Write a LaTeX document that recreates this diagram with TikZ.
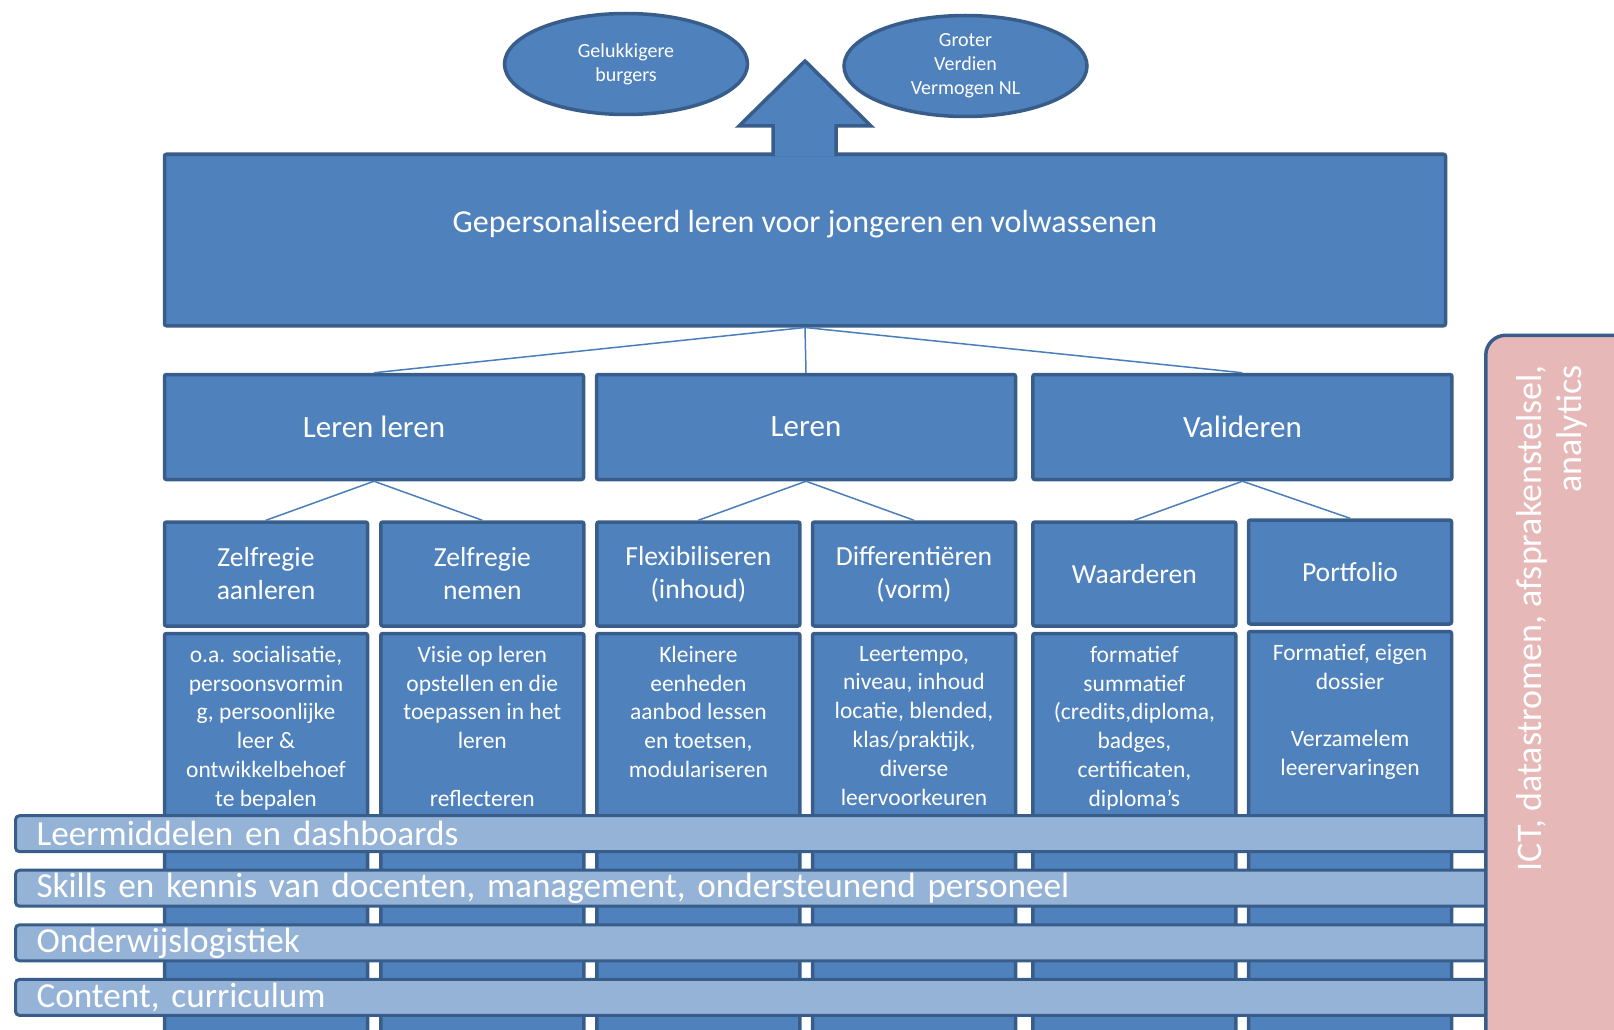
\documentclass[tikz,border=0pt]{standalone}
\usepackage{fontspec}
\setmainfont{Carlito}
\usetikzlibrary{shapes.geometric,positioning}

\definecolor{boxfill}{HTML}{4F81BD}
\definecolor{boxline}{HTML}{385D8A}
\definecolor{barfill}{HTML}{95B3D7}
\definecolor{ictfill}{HTML}{E6B9B8}
\definecolor{linkline}{HTML}{4A7EBB}

\tikzset{
  blok/.style={draw=boxline, fill=boxfill, line width=3.5pt, rounded corners=2pt,
    text=white, align=center, inner sep=0pt},
  doel/.style={blok, ellipse, minimum width=243pt, minimum height=101pt,
    font=\fontsize{20}{24}\selectfont},
  pijler/.style={blok, minimum width=419pt, minimum height=105pt,
    font=\fontsize{31}{37}\selectfont},
  kop/.style={blok, minimum width=203pt, minimum height=104pt,
    font=\fontsize{27.6}{33}\selectfont},
  inhoud/.style={blok, anchor=north, minimum width=203pt, minimum height=430pt},
  inhoudtekst/.style={text=white, align=center, inner sep=0pt,
    font=\fontsize{23.5}{28.8}\selectfont},
  laag/.style={draw=boxline, fill=barfill, line width=3pt, rounded corners=4pt,
    anchor=west, text=white, inner xsep=21pt, inner ysep=0pt, minimum height=36pt,
    text width=1440pt, align=left, font=\fontsize{35.2}{40}\selectfont},
  tak/.style={draw=linkline, line width=1.5pt}
}

\begin{document}
\begin{tikzpicture}[x=1pt,y=-1pt]
  \useasboundingbox (0,0) rectangle (1614,1030);

  % doelen bovenaan
  \node[doel] (gelukkig) at (626,64) {Gelukkigere\\burgers};
  \node[doel] (vermogen) at (965.5,66) {Groter\\Verdien\\Vermogen NL};

  % hoofdblok met pijl
  \node[blok, minimum width=1281pt, minimum height=171.5pt] (top) at (805,240) {};
  \node[text=white, inner sep=0pt, font=\fontsize{32}{37}\selectfont] (titel) at (805,224)
    {Gepersonaliseerd leren voor jongeren en volwassenen};
  \filldraw[draw=boxline, fill=boxfill, line width=3.5pt]
    (773,156) -- (773,126) -- (739,126) -- (805,61) -- (871,126) -- (836,126) -- (836,156);

  % pijlers
  \node[pijler] (ll) at (374,427) {Leren leren};
  \node[pijler] (le) at (806,427) {Leren};
  \node[pijler] (va) at (1242.4,427) {Valideren};
  \path[tak]
    (top.south) edge (ll.north)
    (top.south) edge (le.north)
    (top.south) edge (va.north);

  % kopjes
  \node[kop] (h1) at (266,574) {Zelfregie\\aanleren};
  \node[kop] (h2) at (482.3,574) {Zelfregie\\nemen};
  \node[kop] (h3) at (698.4,574) {Flexibiliseren\\(inhoud)};
  \node[kop] (h4) at (914,574) {Differentiëren\\(vorm)};
  \node[kop] (h5) at (1134.4,574) {Waarderen};
  \node[kop] (h6) at (1350,572) {Portfolio};
  \path[tak]
    (ll.south) edge (h1.north)
    (ll.south) edge (h2.north)
    (le.south) edge (h3.north)
    (le.south) edge (h4.north)
    (va.south) edge (h5.north)
    (va.south) edge (h6.north);

  % inhoud per kolom
  \node[inhoud] (b1) at (266,631.75) {};
  \node[inhoud] (b2) at (482.3,631.75) {};
  \node[inhoud] (b3) at (698.4,631.75) {};
  \node[inhoud] (b4) at (914,631.75) {};
  \node[inhoud] (b5) at (1134.4,631.75) {};
  \node[inhoud] (b6) at (1350,629.75) {};
  \node[inhoudtekst] (t1) [below=14pt of b1.north]
    {o.a. socialisatie,\\persoonsvormin\\g, persoonlijke\\leer \&\\ontwikkelbehoef\\te bepalen};
  \node[inhoudtekst] (t2) [below=14pt of b2.north]
    {Visie op leren\\opstellen en die\\toepassen in het\\leren\\[28.8pt]reflecteren};
  \node[inhoudtekst] (t3) [below=14pt of b3.north]
    {Kleinere\\eenheden\\aanbod lessen\\en toetsen,\\modulariseren};
  \node[inhoudtekst] (t4) [below=14pt of b4.north]
    {Leertempo,\\niveau, inhoud\\locatie, blended,\\klas/praktijk,\\diverse\\leervoorkeuren};
  \node[inhoudtekst] (t5) [below=14pt of b5.north]
    {formatief\\summatief\\(credits,diploma,\\badges,\\certificaten,\\diploma’s};
  \node[inhoudtekst] (t6) [below=14pt of b6.north]
    {Formatief, eigen\\dossier\\[28.8pt]Verzamelem\\leerervaringen};

  % lagen
  \node[laag] (bar1) at (14,833.7) {Leermiddelen en dashboards};
  \node[laag] (bar2) at (14,888.2) {Skills en kennis van docenten, management, ondersteunend personeel};
  \node[laag] (bar3) at (14,942.8) {Onderwijslogistiek};
  \node[laag] (bar4) at (14,997.4) {Content, curriculum};

  % ict
  \node[draw=boxline, fill=ictfill, line width=3.5pt, rounded corners=20pt, anchor=north west,
    minimum width=193pt, minimum height=744pt] (ict) at (1484,333.5) {};
  \node[rotate=90, anchor=east, text=white, align=right, inner sep=0pt,
    font=\fontsize{36}{40}\selectfont] (icttekst) at (1552,365)
    {ICT, datastromen, afsprakenstelsel,\\analytics};
\end{tikzpicture}
\end{document}
